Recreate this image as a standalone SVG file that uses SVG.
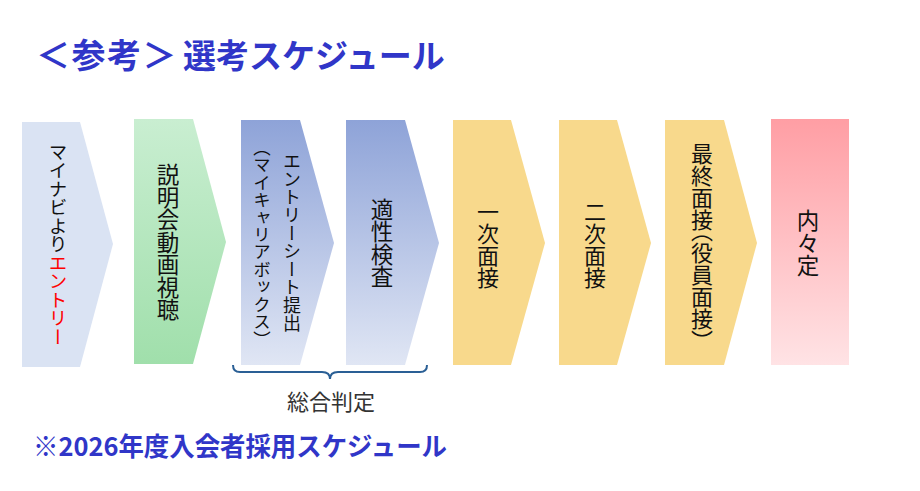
<svg xmlns="http://www.w3.org/2000/svg" width="920" height="491" viewBox="0 0 920 491">
<defs>
<linearGradient id="gGreen" x1="0" y1="0" x2="0" y2="1"><stop offset="0" stop-color="#c9eed1"/><stop offset="1" stop-color="#a0dfab"/></linearGradient>
<linearGradient id="gBlue" x1="0" y1="0" x2="0" y2="1"><stop offset="0" stop-color="#8ea3d8"/><stop offset="1" stop-color="#e0e6f4"/></linearGradient>
<linearGradient id="gPink" x1="0" y1="0" x2="0" y2="1"><stop offset="0" stop-color="#ff9ea4"/><stop offset="1" stop-color="#ffe3e5"/></linearGradient>
</defs>
<style>
.v{font-family:"Noto Sans CJK JP","Noto Sans",sans-serif;writing-mode:vertical-rl;text-anchor:middle;fill:#111;}
.p{font-feature-settings:"vhal";}
.h{font-family:"Noto Sans CJK JP","Noto Sans",sans-serif;font-weight:bold;fill:#3036c8;}
.y{fill:#f8d98c;}
</style>
<rect width="920" height="491" fill="#ffffff"/>
<text class="h" x="36" y="68" font-size="34" letter-spacing="1.5">＜参考＞</text>
<text class="h" x="183" y="68" font-size="33">選考スケジュール</text>

<g id="step1">
<path d="M22,122 L80,122 L113,244 L80,367 L22,367 Z" fill="#dae3f3"/>
<text class="v" x="58" y="244" font-size="18.5">マイナビより<tspan fill="#ff0000">エントリー</tspan></text>
</g>
<g id="step2">
<path d="M134,119 L193,119 L226,242 L193,364 L134,364 Z" fill="url(#gGreen)"/>
<text class="v" x="168" y="242" font-size="22.5">説明会動画視聴</text>
</g>
<g id="step3">
<path d="M241,120 L300,120 L334,243 L300,365 L241,365 Z" fill="url(#gBlue)"/>
<text class="v" x="292" y="242" font-size="18">エントリーシート提出</text>
<text class="v" x="262" y="243" font-size="17.4"><tspan class="p">（</tspan>マイキャリアボックス<tspan class="p">）</tspan></text>
</g>
<g id="step4">
<path d="M346,120 L405,120 L439,243 L405,365 L346,365 Z" fill="url(#gBlue)"/>
<text class="v" x="382" y="243" font-size="22.5">適性検査</text>
</g>
<g id="step5">
<path d="M453,120 L511,120 L545,243 L511,365 L453,365 Z" class="y"/>
<text class="v" x="488" y="245" font-size="22">一次面接</text>
</g>
<g id="step6">
<path d="M559,120 L617,120 L651,243 L617,365 L559,365 Z" class="y"/>
<text class="v" x="595" y="245" font-size="22">二次面接</text>
</g>
<g id="step7">
<path d="M665,120 L724,120 L757,243 L724,365 L665,365 Z" class="y"/>
<text class="v" x="702" y="242" font-size="22">最終面接<tspan class="p">（</tspan>役員面接<tspan class="p">）</tspan></text>
</g>
<g id="step8">
<rect x="771" y="119" width="78" height="246" fill="url(#gPink)"/>
<text class="v" x="808" y="243" font-size="22.5">内々定</text>
</g>

<g id="connectors">
<path d="M233,365 Q233,372 240,372 L322,372 Q330,372 330,379 Q330,372 338,372 L420,372 Q427,372 427,365" fill="none" stroke="#2a5f95" stroke-width="2"/>
</g>
<g id="label-sogo">
<text x="331" y="410" font-family="Noto Sans CJK JP, Noto Sans, sans-serif" font-size="22" text-anchor="middle" fill="#333">総合判定</text>
</g>
<text class="h" x="33" y="456" font-size="26" textLength="414" lengthAdjust="spacingAndGlyphs">※2026年度入会者採用スケジュール</text>
</svg>
